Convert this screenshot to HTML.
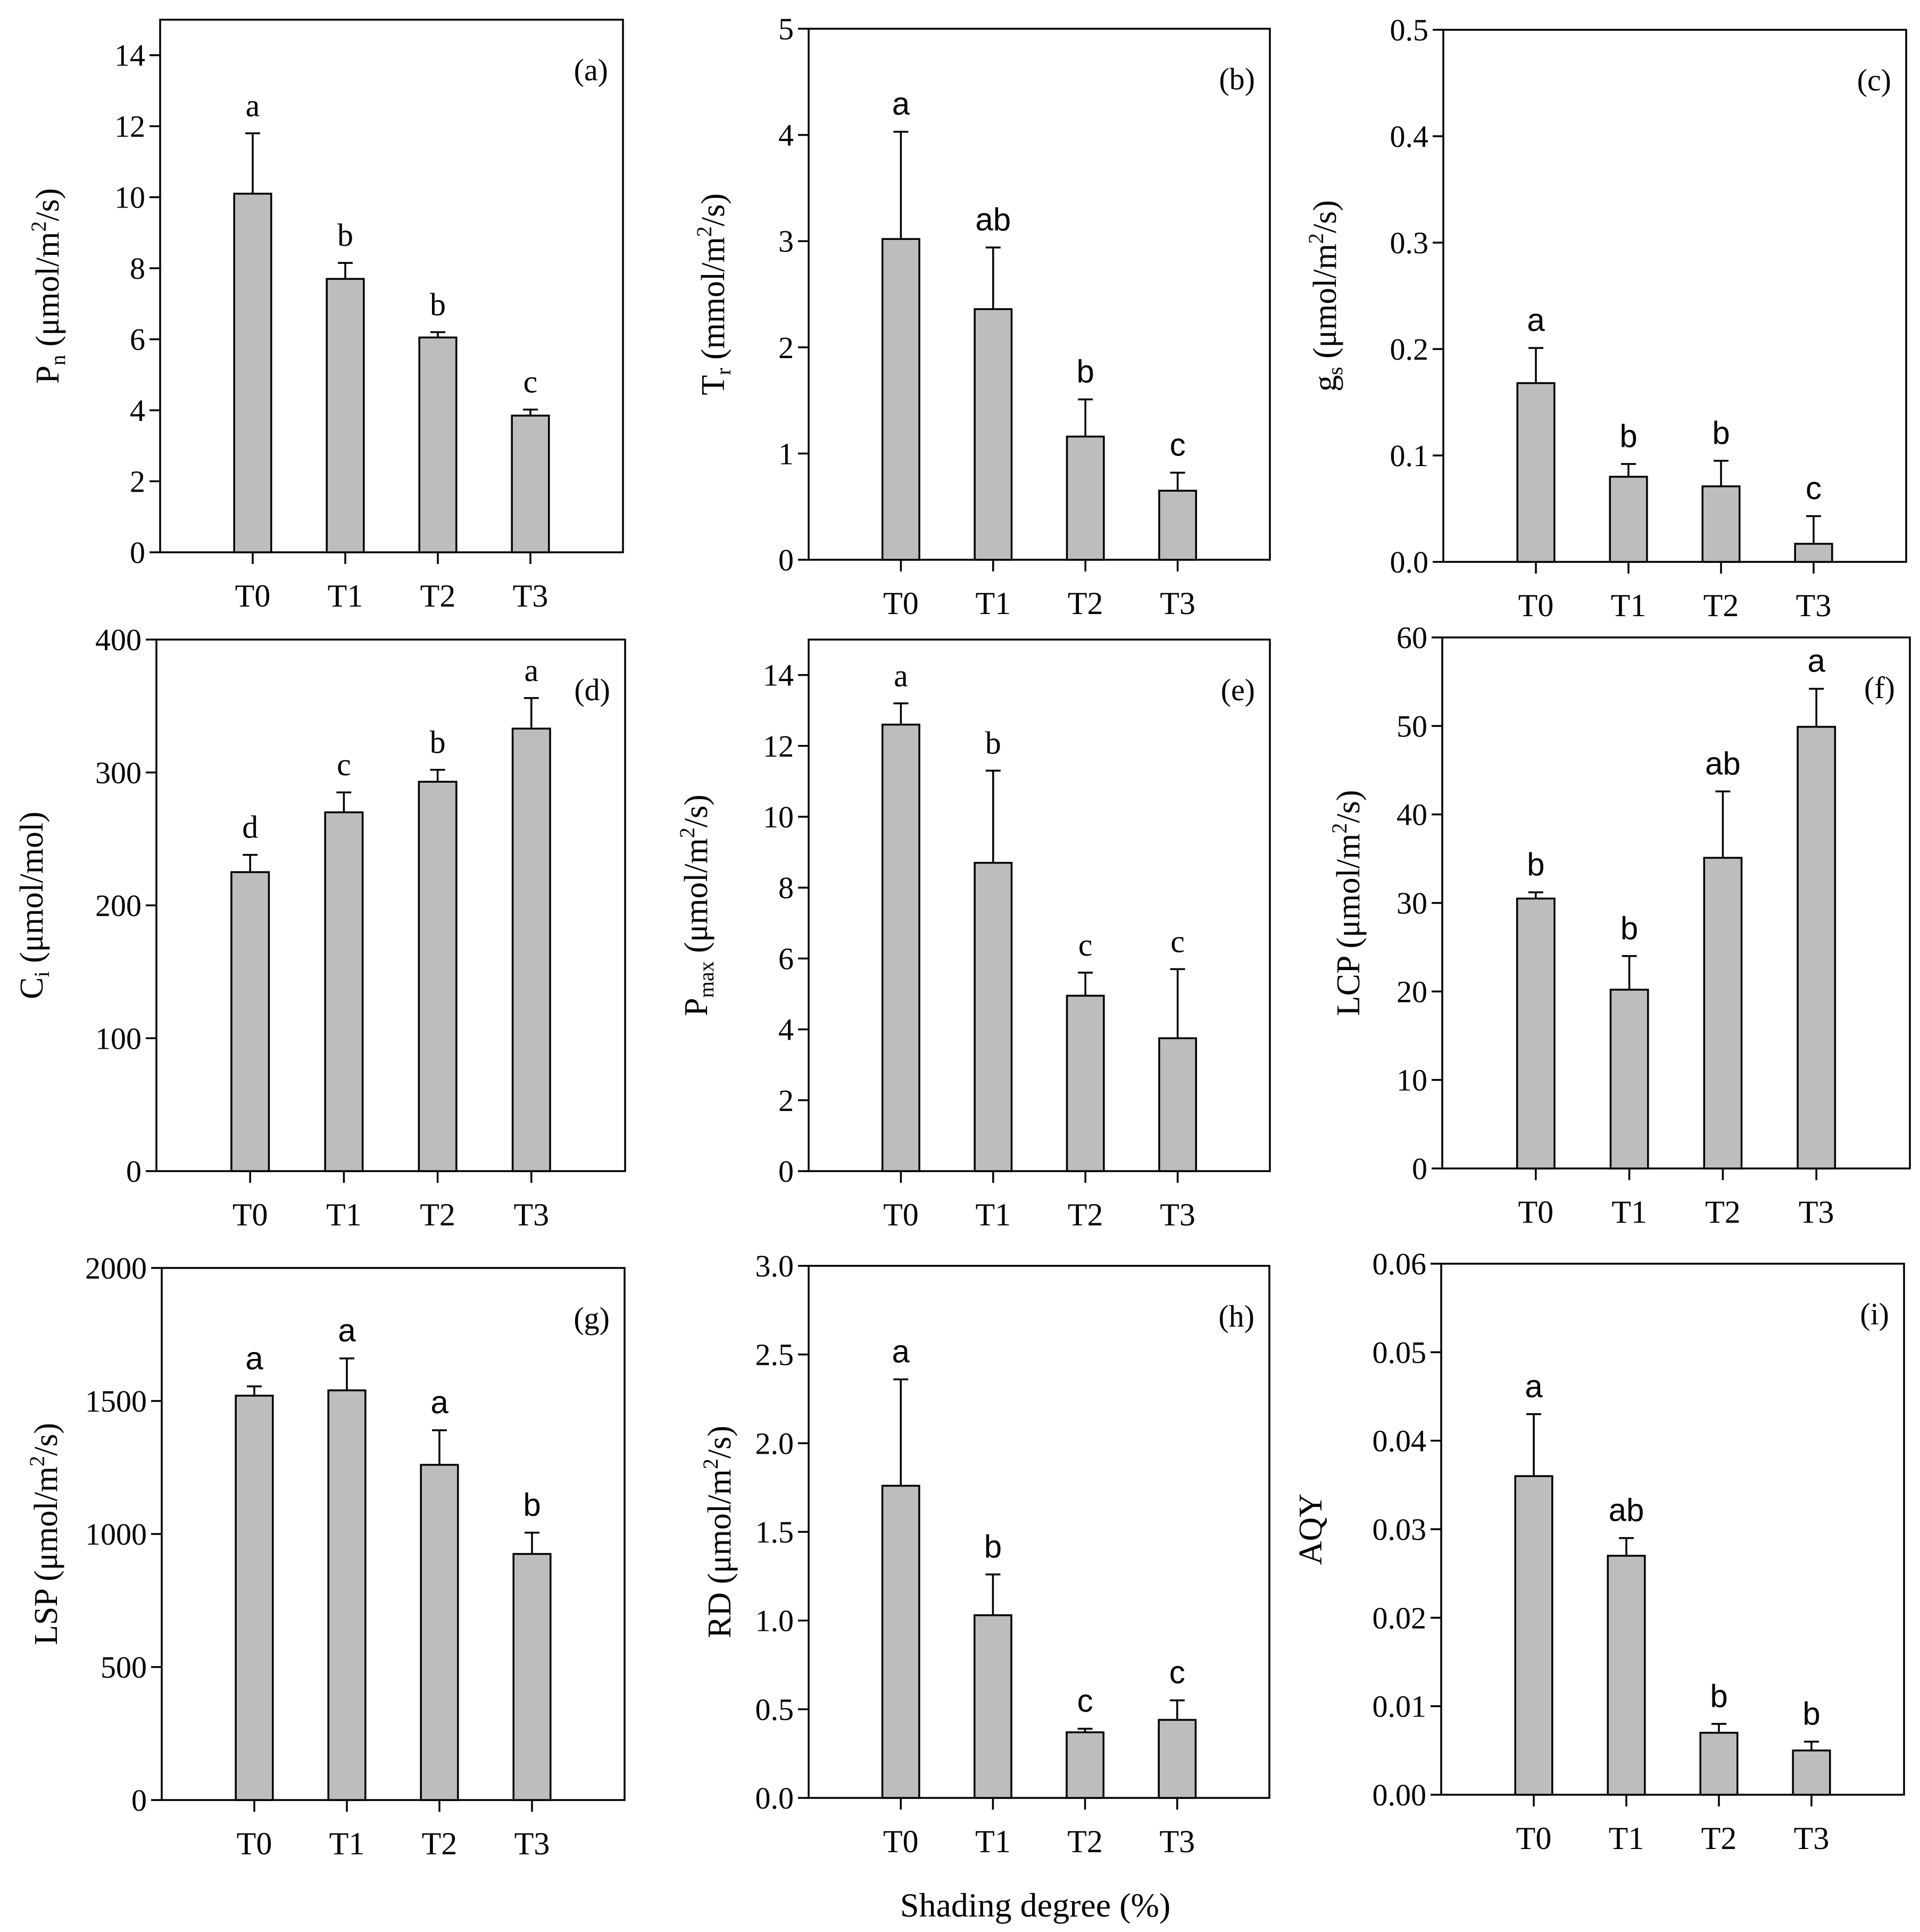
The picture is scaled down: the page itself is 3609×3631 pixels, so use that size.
<!DOCTYPE html>
<html><head><meta charset="utf-8"><style>
html,body{margin:0;padding:0;background:#fff;}
svg{display:block;}
</style></head><body>
<svg id="fig" xmlns="http://www.w3.org/2000/svg" width="3609" height="3631" viewBox="0 0 3609 3631">
<rect width="3609" height="3631" fill="#fff"/>
<text x="1946" y="3602" font-family="Liberation Serif, serif" font-size="64" text-anchor="middle">Shading  degree (%)</text>
</svg>
<script>
const categories = ["T0","T1","T2","T3"];
// panel a
const aMeans = [10.1, 7.7, 6.05, 3.85];
const aErr = [11.8, 8.15, 6.2, 4.02];
const aLetters = ["a","b","b","c"];
const aTicks = ["0","2","4","6","8","10","12","14"];
// panel b
const bMeans = [3.02, 2.36, 1.16, 0.65];
const bErr = [4.03, 2.94, 1.51, 0.82];
const bLetters = ["a","ab","b","c"];
const bTicks = ["0","1","2","3","4","5"];
// panel c
const cMeans = [0.168, 0.080, 0.071, 0.017];
const cErr = [0.201, 0.092, 0.095, 0.043];
const cLetters = ["a","b","b","c"];
const cTicks = ["0.0","0.1","0.2","0.3","0.4","0.5"];
// panel d
const dMeans = [225, 270, 293, 333];
const dErr = [238, 285, 302, 356];
const dLetters = ["d","c","b","a"];
const dTicks = ["0","100","200","300","400"];
// panel e
const eMeans = [12.6, 8.7, 4.95, 3.75];
const eErr = [13.2, 11.3, 5.6, 5.7];
const eLetters = ["a","b","c","c"];
const eTicks = ["0","2","4","6","8","10","12","14"];
// panel f
const fMeans = [30.5, 20.2, 35.1, 49.9];
const fErr = [31.2, 24.0, 42.6, 54.2];
const fLetters = ["b","b","ab","a"];
const fTicks = ["0","10","20","30","40","50","60"];
// panel g
const gMeans = [1520, 1540, 1260, 925];
const gErr = [1555, 1660, 1390, 1005];
const gLetters = ["a","a","a","b"];
const gTicks = ["0","500","1000","1500","2000"];
// panel h
const hMeans = [1.76, 1.03, 0.37, 0.44];
const hErr = [2.36, 1.26, 0.39, 0.55];
const hLetters = ["a","b","c","c"];
const hTicks = ["0.0","0.5","1.0","1.5","2.0","2.5","3.0"];
// panel i
const iMeans = [0.036, 0.027, 0.007, 0.005];
const iErr = [0.043, 0.029, 0.008, 0.006];
const iLetters = ["a","ab","b","b"];
const iTicks = ["0.00","0.01","0.02","0.03","0.04","0.05","0.06"];

const NS = "http://www.w3.org/2000/svg";
const svg = document.getElementById("fig");
function mk(tag, attrs, parent){
  const e = document.createElementNS(NS, tag);
  for (const k in attrs) e.setAttribute(k, attrs[k]);
  (parent||svg).appendChild(e);
  return e;
}
const panels = [
  {id:"a", L:301, R:1171, T:37, B:1038, max:15, ticks:aTicks, step:2, means:aMeans, err:aErr, letters:aLetters, serif:true, tx:88,
   title:[["P",""],["n","sub"],[" (μmol/m",""],["2","sup"],["/s)",""]]},
  {id:"b", L:1520, R:2387, T:54, B:1052, max:5, ticks:bTicks, step:1, means:bMeans, err:bErr, letters:bLetters, serif:false, tx:1339,
   title:[["T",""],["r","sub"],[" (mmol/m",""],["2","sup"],["/s)",""]]},
  {id:"c", L:2713, R:3583, T:56, B:1056, max:0.5, ticks:cTicks, step:0.1, means:cMeans, err:cErr, letters:cLetters, serif:false, tx:2489,
   title:[["g",""],["s","sub"],[" (μmol/m",""],["2","sup"],["/s)",""]]},
  {id:"d", L:294, R:1175, T:1202, B:2201, max:400, ticks:dTicks, step:100, means:dMeans, err:dErr, letters:dLetters, serif:true, tx:58,
   title:[["C",""],["i","sub"],[" (μmol/mol)",""]]},
  {id:"e", L:1520, R:2387, T:1202, B:2201, max:15, ticks:eTicks, step:2, means:eMeans, err:eErr, letters:eLetters, serif:true, tx:1307,
   title:[["P",""],["max","sub"],[" (μmol/m",""],["2","sup"],["/s)",""]]},
  {id:"f", L:2711, R:3590, T:1198, B:2196, max:60, ticks:fTicks, step:10, means:fMeans, err:fErr, letters:fLetters, serif:false, tx:2533,
   title:[["LCP (μmol/m",""],["2","sup"],["/s)",""]]},
  {id:"g", L:304, R:1174, T:2383, B:3383, max:2000, ticks:gTicks, step:500, means:gMeans, err:gErr, letters:gLetters, serif:false, tx:85,
   title:[["LSP (μmol/m",""],["2","sup"],["/s)",""]]},
  {id:"h", L:1520, R:2386, T:2379, B:3379, max:3, ticks:hTicks, step:0.5, means:hMeans, err:hErr, letters:hLetters, serif:false, tx:1351,
   title:[["RD (μmol/m",""],["2","sup"],["/s)",""]]},
  {id:"i", L:2709, R:3579, T:2375, B:3373, max:0.06, ticks:iTicks, step:0.01, means:iMeans, err:iErr, letters:iLetters, serif:false, tx:2462,
   title:[["AQY",""]]}
];
const serif = "Liberation Serif, serif", sans = "Liberation Sans, sans-serif";
panels.forEach(p => {
  const g = mk("g", {});
  
  
  const W = p.R - p.L;
  const y = v => p.B - (v / p.max) * (p.B - p.T);
  const x = i => p.L + W * (0.2 + 0.2 * i);
  const bw = W * 0.08;
  const fr = mk("rect", {x:p.L, y:p.T, width:W, height:p.B-p.T, fill:"none", stroke:"#000", "stroke-width":3.5}, g);
  
  
  p.ticks.forEach((t, k) => {
    const yy = y(k * p.step);
    const tl = mk("line", {x1:p.L-20, x2:p.L, y1:yy, y2:yy, stroke:"#000", "stroke-width":3.5}, g);
    
    
    const tt = mk("text", {x:p.L-28, y:yy+20, "font-family":serif, "font-size":58, "text-anchor":"end"}, g);
    tt.textContent = t;
    
    
  });
  p.means.forEach((m, i) => {
    const cx = x(i);
    const ey = y(p.err[i]);
    const el = mk("line", {x1:cx, x2:cx, y1:ey, y2:y(m), stroke:"#000", "stroke-width":3.5}, g);
    
    
    const ec = mk("line", {x1:cx-14, x2:cx+14, y1:ey, y2:ey, stroke:"#000", "stroke-width":3.5}, g);
    
    
    const r = mk("rect", {x:cx-bw/2, y:y(m), width:bw, height:p.B-y(m), fill:"#bdbdbd", stroke:"#000", "stroke-width":3.5}, g);
    
    
    const lt = mk("text", {x:cx, y:ey-32, "font-family":p.serif?serif:sans, "font-size":60, "text-anchor":"middle"}, g);
    lt.textContent = p.letters[i];
    
    
    const xt = mk("line", {x1:cx, x2:cx, y1:p.B, y2:p.B+22, stroke:"#000", "stroke-width":3.5}, g);
    
    
    const xl = mk("text", {x:cx, y:p.B+102, "font-family":serif, "font-size":60, "text-anchor":"middle"}, g);
    xl.textContent = categories[i];
    
    
  });
  const pl = mk("text", {x:p.R-28, y:p.T+114, "font-family":serif, "font-size":58, "text-anchor":"end"}, g);
  pl.textContent = "(" + p.id + ")";
  
  
  const cy = (p.T + p.B) / 2;
  const yt = mk("text", {x:p.tx, y:cy, "font-family":serif, "font-size":62, "text-anchor":"middle",
    transform:"rotate(-90 " + p.tx + " " + cy + ") translate(0 22)"}, g);
  
  
  p.title.forEach(([s, k]) => {
    const ts = mk("tspan", {}, yt);
    if (k === "sub") { ts.setAttribute("font-size", 40); ts.setAttribute("baseline-shift", "-12"); }
    if (k === "sup") { ts.setAttribute("font-size", 40); ts.setAttribute("baseline-shift", "24"); }
    ts.textContent = s;
  });
});
</script>
</body></html>
